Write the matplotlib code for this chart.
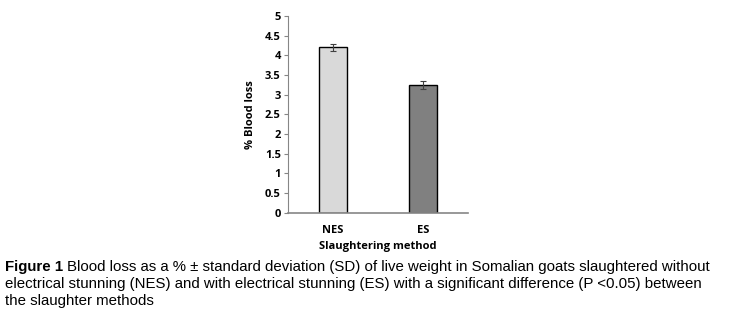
import numpy as np
import matplotlib.pyplot as plt

methods = ['NES', 'ES']
blood_loss = [4.2, 3.25]
sd = [0.1, 0.1]
bar_colors = ['#d9d9d9', '#808080']
yticks = [0, 0.5, 1, 1.5, 2, 2.5, 3, 3.5, 4, 4.5, 5]

fig = plt.figure(figsize=(7.34, 3.13), dpi=100)
ax = fig.add_axes([0.392, 0.32, 0.246, 0.629])

x = np.arange(len(methods))
ax.bar(x, blood_loss, width=0.31, color=bar_colors, edgecolor='black', linewidth=1.0,
       yerr=sd, error_kw=dict(ecolor='#404040', elinewidth=0.8, capsize=2.5, capthick=0.8))
ax.set_xlim(-0.5, 1.5)
ax.set_ylim(0, 5)
ax.set_yticks(yticks)
ax.set_yticklabels([f'{t:g}' for t in yticks])
ax.set_xticks(x)
ax.set_xticklabels(methods)

for s in ['top', 'right']:
    ax.spines[s].set_visible(False)
ax.spines['left'].set_color('#868686')
ax.spines['bottom'].set_color('#868686')
ax.spines['bottom'].set_linewidth(1.2)
ax.tick_params(axis='y', length=3, color='#868686', labelsize=8, pad=2)
ax.tick_params(axis='x', length=0, labelsize=8, pad=9)
for lab in ax.get_xticklabels() + ax.get_yticklabels():
    lab.set_fontweight('bold')
    lab.set_family('Open Sans')

ax.set_xlabel('Slaughtering method', fontsize=8, fontweight='bold', family='Open Sans', labelpad=3)
ax.set_ylabel('% Blood loss', fontsize=8, fontweight='bold', family='Open Sans', labelpad=6)

cap_font = dict(family='Liberation Sans', fontsize=10.8)
head = fig.text(0.007, 0.135, 'Figure 1 ', fontweight='bold', **cap_font)
renderer = fig.canvas.get_renderer()
bb = head.get_window_extent(renderer)
x1 = bb.x1 / fig.bbox.width
fig.text(x1, 0.135, 'Blood loss as a % \u00b1 standard deviation (SD) of live weight in Somalian goats slaughtered without', **cap_font)
fig.text(0.007, 0.08, 'electrical stunning (NES) and with electrical stunning (ES) with a significant difference (P <0.05) between', **cap_font)
fig.text(0.007, 0.025, 'the slaughter methods', **cap_font)

fig.savefig('out.png', dpi=100)
